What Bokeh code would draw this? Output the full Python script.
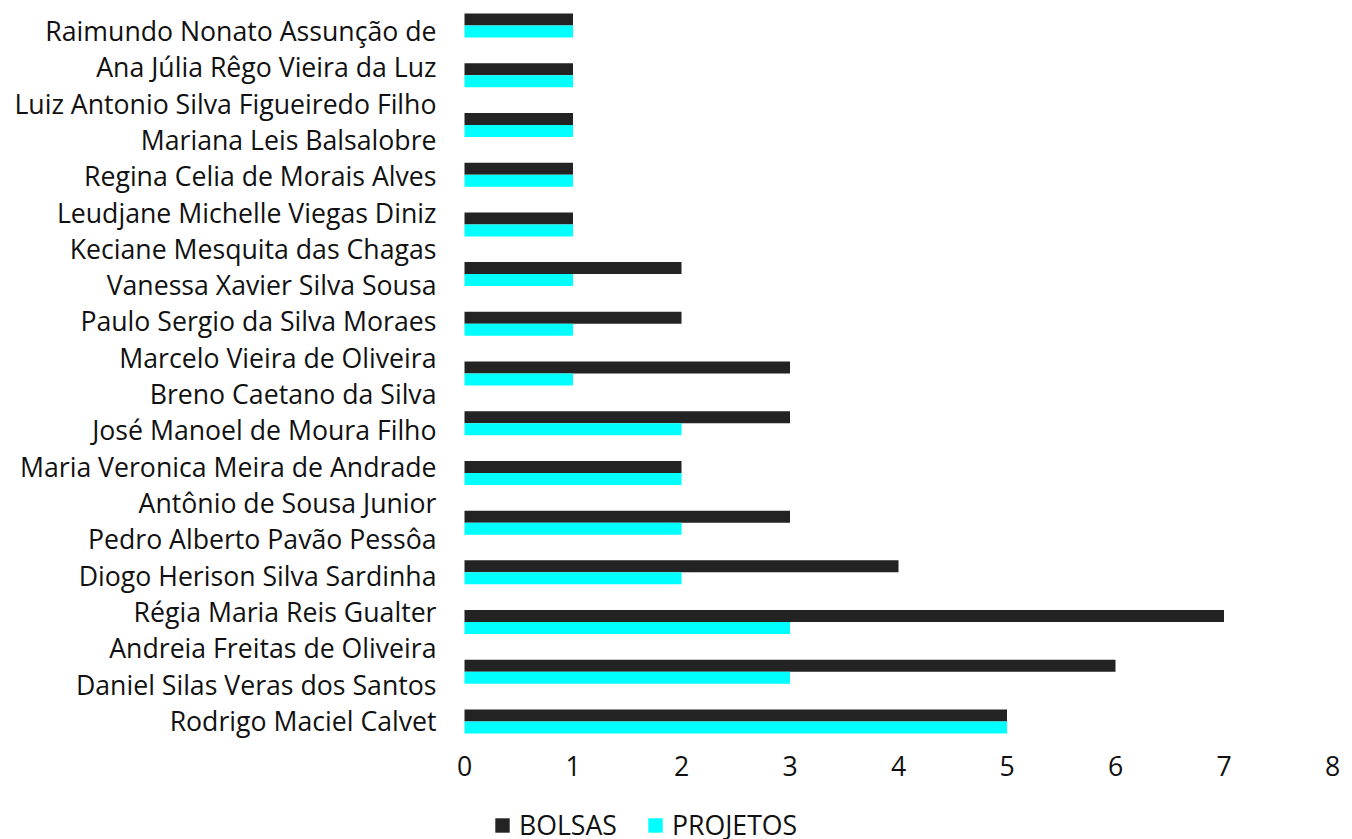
from bokeh.plotting import figure
from bokeh.models import Range1d, FixedTicker, ColumnDataSource, Legend, LegendItem
from bokeh.transform import dodge
from bokeh.embed import file_html
from bokeh.resources import INLINE

# Axis labels (bottom to top), as shown in the reference
names = [
    "Rodrigo Maciel Calvet",
    "Daniel Silas Veras dos Santos",
    "Andreia Freitas de Oliveira",
    "Régia Maria Reis Gualter",
    "Diogo Herison Silva Sardinha",
    "Pedro Alberto Pavão Pessôa",
    "Antônio de Sousa Junior",
    "Maria Veronica Meira de Andrade",
    "José Manoel de Moura Filho",
    "Breno Caetano da Silva",
    "Marcelo Vieira de Oliveira",
    "Paulo Sergio da Silva Moraes",
    "Vanessa Xavier Silva Sousa",
    "Keciane Mesquita das Chagas",
    "Leudjane Michelle Viegas Diniz",
    "Regina Celia de Morais Alves",
    "Mariana Leis Balsalobre",
    "Luiz Antonio Silva Figueiredo Filho",
    "Ana Júlia Rêgo Vieira da Luz",
    "Raimundo Nonato Assunção de",
]

# Bar groups (bottom to top)
bolsas = [5, 6, 7, 4, 3, 2, 3, 3, 2, 2, 1, 1, 1, 1, 1]
projetos = [5, 3, 3, 2, 2, 2, 2, 1, 1, 1, 1, 1, 1, 1, 1]
x_ticks = [0, 1, 2, 3, 4, 5, 6, 7, 8]
series_names = ["BOLSAS", "PROJETOS"]
series_colors = ["#232323", "#00FFFF"]

FONT = "Open Sans"
FS = "26.67px"
TEXT = "#111111"

src = ColumnDataSource(dict(idx=list(range(len(bolsas))), bolsas=bolsas, projetos=projetos))

p = figure(width=1352, height=839, output_backend="svg", toolbar_location=None,
           x_range=Range1d(-0.1843, 8.1843), y_range=Range1d(-3.276, 19.824),
           min_border_left=444, min_border_right=0, min_border_top=0, min_border_bottom=0)
p.extra_y_ranges = {"bars": Range1d(-2.374, 14.504)}

bh = 0.2414
r1 = p.hbar(y=dodge("idx", 0.1207, range=p.extra_y_ranges["bars"]), right="bolsas", left=0,
            height=bh, source=src, y_range_name="bars", fill_color=series_colors[0], line_color=None)
r2 = p.hbar(y=dodge("idx", -0.1207, range=p.extra_y_ranges["bars"]), right="projetos", left=0,
            height=bh, source=src, y_range_name="bars", fill_color=series_colors[1], line_color=None)

p.grid.visible = False
p.outline_line_color = None

yax = p.yaxis[0]
yax.ticker = FixedTicker(ticks=list(range(len(names))))
yax.major_label_overrides = {i: n for i, n in enumerate(names)}
yax.axis_line_color = None
yax.major_tick_line_color = None
yax.minor_tick_line_color = None
yax.major_tick_out = 0
yax.major_tick_in = 0
yax.major_label_standoff = 8
yax.major_label_text_font = FONT
yax.major_label_text_font_size = FS
yax.major_label_text_color = TEXT

xax = p.xaxis[0]
xax.fixed_location = -0.716   # just below the lowest category, as in the reference
xax.ticker = FixedTicker(ticks=x_ticks)
xax.axis_line_color = None
xax.major_tick_line_color = None
xax.minor_tick_line_color = None
xax.major_tick_out = 0
xax.major_tick_in = 0
xax.major_label_standoff = 9
xax.major_label_text_font = FONT
xax.major_label_text_font_size = FS
xax.major_label_text_color = TEXT

legend = Legend(items=[LegendItem(label=series_names[0], renderers=[r1]),
                       LegendItem(label=series_names[1], renderers=[r2])],
                orientation="horizontal", location=(49, -4),
                glyph_width=18, glyph_height=18, label_standoff=8, spacing=29,
                padding=0, margin=0, border_line_color=None, background_fill_alpha=0,
                label_text_font=FONT, label_text_font_size=FS, label_text_color=TEXT)
p.add_layout(legend, "center")

open("out.html", "w").write(file_html(p, INLINE))
